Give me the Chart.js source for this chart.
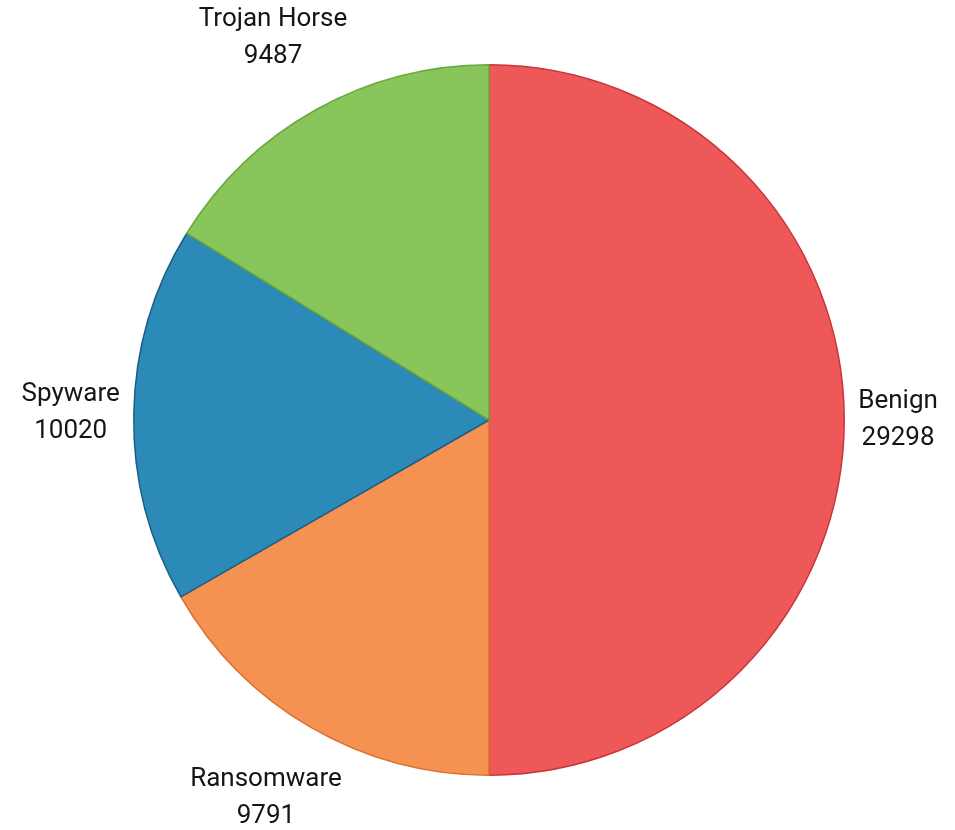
<!DOCTYPE html>
<html>
<head>
<meta charset="utf-8">
<script src="https://cdn.jsdelivr.net/npm/chart.js"></script>
<style>
  html, body { margin:0; padding:0; background:#fff; }
  #wrap { width:955px; height:830px; }
</style>
</head>
<body>
<div id="wrap"><canvas id="pieChart"></canvas></div>
<script>
// values
const categories = ["Benign", "Ransomware", "Spyware", "Trojan Horse"];
const counts = [29298, 9791, 10020, 9487];
const sliceColors = ["#EE5859", "#F59151", "#2C8AB9", "#88C55B"];
const edgeColors = ["#C8353A", "#D9702F", "#1B5F86", "#6AA83F"];

// name + count drawn outside each slice
const outsideLabels = {
  id: "outsideLabels",
  afterDatasetsDraw(chart) {
    const ctx = chart.ctx;
    const arcs = chart.getDatasetMeta(0).data;
    ctx.save();
    ctx.font = "26px Roboto, 'Liberation Sans', sans-serif";
    ctx.fillStyle = "#151515";
    ctx.textAlign = "center";
    ctx.textBaseline = "middle";
    const lineGap = 37;
    arcs.forEach((arc, i) => {
      const mid = (arc.startAngle + arc.endAngle) / 2;
      const cx = Math.cos(mid), sy = Math.sin(mid);
      const r = arc.outerRadius + 14;
      const w = Math.max(ctx.measureText(categories[i]).width, ctx.measureText(String(counts[i])).width);
      const x = arc.x + cx * r + cx * w / 2;
      const y = arc.y + sy * r + sy * 68;
      ctx.fillText(categories[i], x, y - lineGap / 2);
      ctx.fillText(String(counts[i]), x, y + lineGap / 2);
    });
    ctx.restore();
  }
};

new Chart(document.getElementById("pieChart"), {
  type: "pie",
  data: {
    labels: categories,
    datasets: [{
      data: counts,
      backgroundColor: sliceColors,
      borderColor: edgeColors,
      borderWidth: 1.5
    }]
  },
  options: {
    responsive: true,
    maintainAspectRatio: false,
    animation: false,
    layout: { padding: { left: 133, right: 110, top: 64, bottom: 54 } },
    plugins: {
      legend: { display: false },
      tooltip: { enabled: false }
    }
  },
  plugins: [outsideLabels]
});
</script>
</body>
</html>
